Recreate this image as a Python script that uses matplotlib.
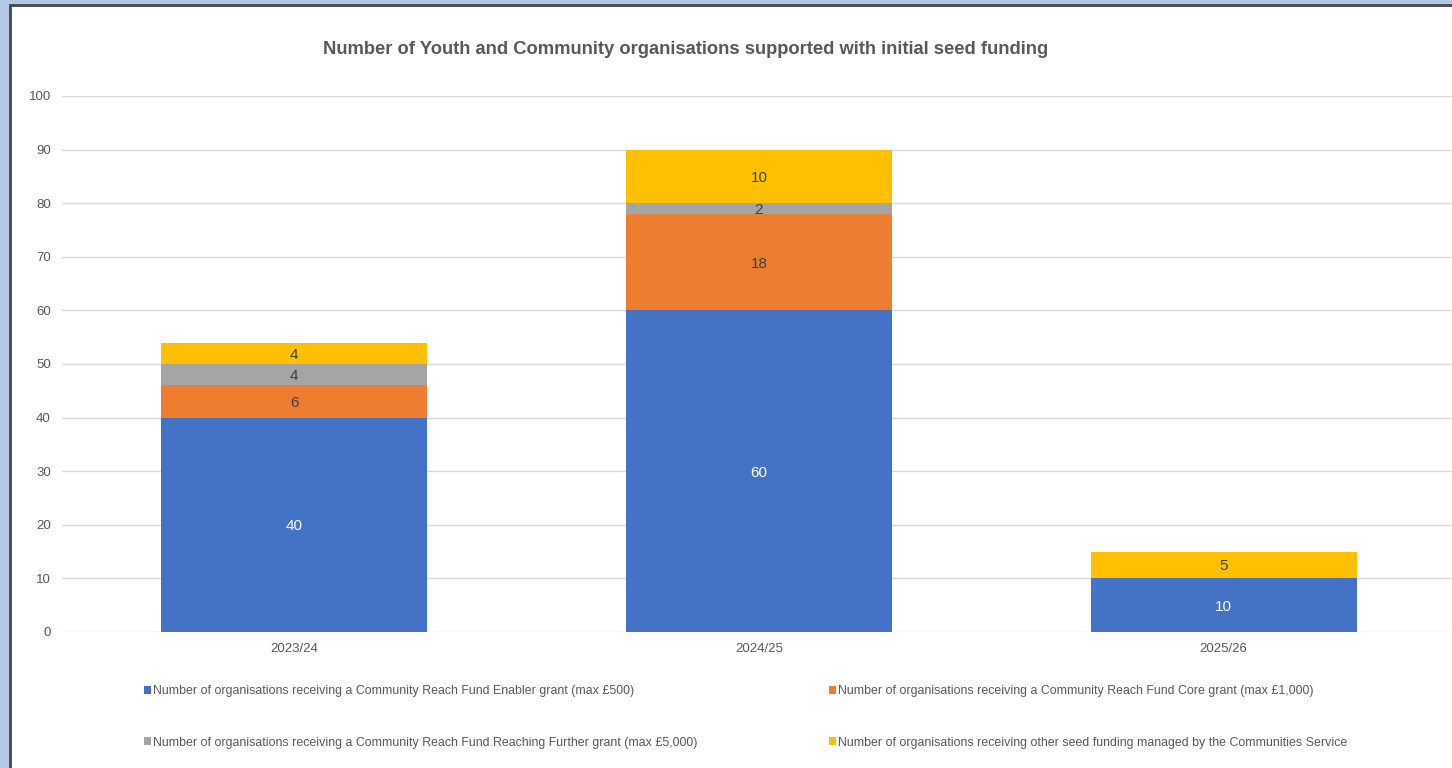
import matplotlib.pyplot as plt
from matplotlib.patches import Rectangle
import numpy as np

plt.rcParams['font.family'] = ['Liberation Sans', 'DejaVu Sans']

years = ['2023/24', '2024/25', '2025/26']
enabler = [40, 60, 10]
core = [6, 18, 0]
further = [4, 2, 0]
other = [4, 10, 5]

series_names = [
    'Number of organisations receiving a Community Reach Fund Enabler grant (max £500)',
    'Number of organisations receiving a Community Reach Fund Core grant (max £1,000)',
    'Number of organisations receiving a Community Reach Fund Reaching Further grant (max £5,000)',
    'Number of organisations receiving other seed funding managed by the Communities Service',
]
colours = ['#4472C4', '#ED7D31', '#A5A5A5', '#FFC000']
label_colours = ['white', '#404040', '#404040', '#404040']
text_grey = '#595959'

fig = plt.figure(figsize=(14.52, 7.68), dpi=100)
fig.patch.set_facecolor('#B4C7E7')
# white chart area with a dark frame line on the top and left
fig.patches.append(Rectangle((10 / 1452, -0.05), 1.1, 1.05 - 5.5 / 768,
                             transform=fig.transFigure, facecolor='white',
                             edgecolor='#44474F', linewidth=2, zorder=-10))

ax = fig.add_axes([62 / 1452, 136 / 768, 1394 / 1452, 536 / 768])
ax.set_facecolor('none')

x = np.arange(len(years))
bottom = np.zeros(len(years))
handles = []
for vals, col, lcol, name in zip([enabler, core, further, other], colours, label_colours, series_names):
    vals = np.array(vals, dtype=float)
    bars = ax.bar(x, vals, 0.572, bottom=bottom, color=col, label=name, zorder=2)
    handles.append(bars)
    for xi, v, b in zip(x, vals, bottom):
        if v > 0:
            ax.text(xi, b + v / 2, f'{int(v)}', ha='center', va='center_baseline',
                    fontsize=11, color=lcol, zorder=3)
    bottom += vals

ax.set_xlim(-0.5, 2.5)
ax.set_ylim(0, 100)
ax.set_yticks(range(0, 101, 10))
ax.set_xticks(x)
ax.set_xticklabels(years)
ax.tick_params(length=0, labelsize=9.5, colors=text_grey)
ax.tick_params(axis='y', pad=8)
ax.tick_params(axis='x', pad=8)
ax.grid(axis='y', color='#D9D9D9', linewidth=1, zorder=0)
for s in ax.spines.values():
    s.set_visible(False)

fig.text(686 / 1452, 1 - 50 / 768,
         'Number of Youth and Community organisations supported with initial seed funding',
         ha='center', va='center', fontsize=13.2, fontweight='bold', color=text_grey)

order = [0, 2, 1, 3]
leg = fig.legend([handles[i] for i in order], [series_names[i] for i in order],
                 ncol=2, loc='upper left', bbox_to_anchor=(144 / 1452, 1 - 685 / 768),
                 frameon=False, fontsize=8.9, handlelength=0.6, handleheight=0.6,
                 handletextpad=0.15, labelspacing=3.2, columnspacing=10.6,
                 borderaxespad=0, borderpad=0)
for t in leg.get_texts():
    t.set_color(text_grey)

fig.savefig('out.png', dpi=100)
